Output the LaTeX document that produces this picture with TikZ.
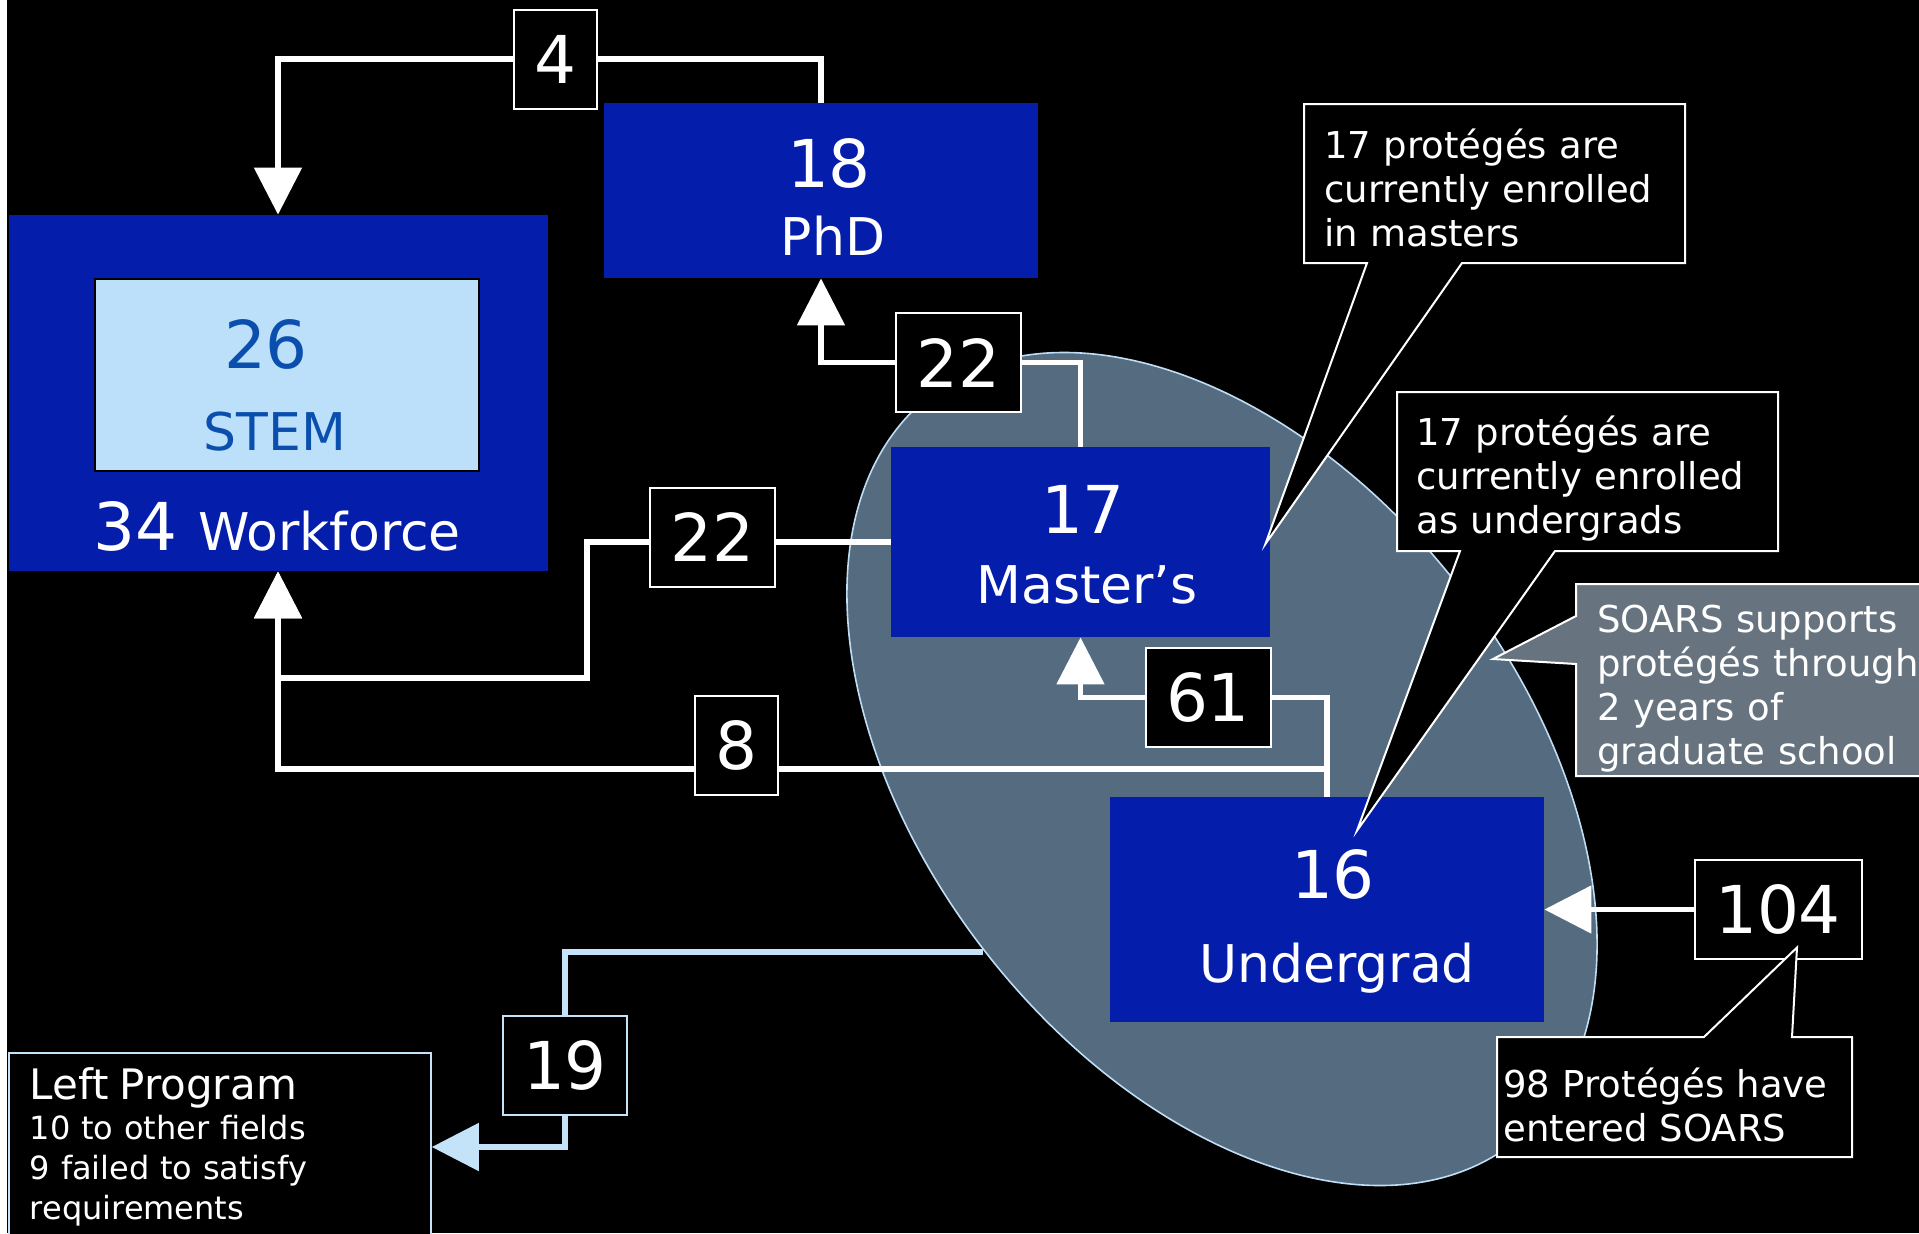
\documentclass[tikz,border=0pt]{standalone}
\usepackage{fontspec}
\setmainfont{DejaVu Sans}
\usetikzlibrary{arrows.meta,positioning,calc,backgrounds}
\definecolor{BoxBlue}{HTML}{051DAB}
\definecolor{StemFill}{HTML}{BCDFFA}
\definecolor{StemText}{HTML}{0B4FAE}
\definecolor{OvalFill}{HTML}{556B80}
\definecolor{OvalLine}{HTML}{BFDDF4}
\definecolor{NoteGrey}{HTML}{677480}
\definecolor{LeftBlue}{HTML}{C4E2F8}
\newcommand\NumFont{\fontsize{33}{36}\selectfont}
\newcommand\LabFont{\fontsize{26}{30}\selectfont}
\newcommand\NoteFont{\fontsize{18.5}{22}\selectfont}
\tikzset{
  FB/.style={rectangle,fill=BoxBlue,inner sep=0pt},
  NUM/.style={text=white,font=\NumFont,inner sep=0pt,anchor=base},
  LAB/.style={text=white,font=\LabFont,inner sep=0pt,anchor=base},
  CB/.style={rectangle,draw=white,fill=black,line width=1pt,text=white,
             font=\NumFont,inner xsep=10.25pt,inner ysep=0pt,minimum height=49.5pt},
  NB/.style={draw=white,fill=black,line width=1pt,line join=miter},
  NT/.style={text=white,font=\NoteFont,inner sep=0pt,anchor=base west,
             text width=180pt,align=left},
  arr/.style={draw=white,line width=2.75pt,-{Triangle[length=23.5pt,width=23.5pt]}},
  arrL/.style={arr,draw=LeftBlue}
}

\begin{document}
\begin{tikzpicture}[x=0.5pt,y=-0.5pt]
  \useasboundingbox (0,0) rectangle (1919,1233);

  % destination boxes
  \node[FB,minimum width=269.5pt,minimum height=178pt] (workforce) at (278,393) {};
  \node[rectangle,fill=StemFill,draw=black,line width=0.8pt,
        minimum width=192pt,minimum height=96pt] (stem) at (287,375) {};
  \node[NUM,text=StemText] (stemnum) at (266,368) {26};
  \node[LAB,text=StemText] (stemlab) at (275,450) {STEM};
  \node[LAB] (worklab) at (277,550) {{\NumFont 34\ }Workforce};

  \node[FB,minimum width=217pt,minimum height=87.5pt] (phd) at (821,190.5) {};
  \node[NUM] (phdnum) at (829,187) {18};
  \node[LAB] (phdlab) at (833,255) {PhD};

  \node[FB,minimum width=189.5pt,minimum height=95pt] (masters) at (1080.5,542) {};
  \node[NUM] (mastnum) at (1083,533) {17};
  \node[LAB] (mastlab) at (1087,603) {Master’s};

  \node[FB,minimum width=217pt,minimum height=112.5pt] (undergrad) at (1327,909.5) {};
  \node[NUM] (ugnum) at (1333,898) {16};
  \node[LAB] (uglab) at (1337,982) {Undergrad};

  \node[draw=LeftBlue,fill=black,line width=0.8pt,text=white,minimum width=211pt,
        minimum height=94pt,text width=190pt,align=left,
        font=\fontsize{16}{20}\selectfont] (leftprog) at (220,1147)
    {{\fontsize{21}{24}\selectfont Left Program}\\10 to other fields\\9 failed to satisfy\\requirements};

  % counts on the flows
  \node[CB] (n4) at (555.5,59) {4};
  \node[CB] (n22a) at (958.5,362.5) {22};
  \node[CB] (n22b) at (712.5,537) {22};
  \node[CB] (n8) at (736,745) {8};
  \node[CB] (n61) at (1208,697.5) {61};
  \node[CB] (n104) at (1778,909.5) {104};
  \node[CB,draw=LeftBlue] (n19) at (565,1065) {19};

  \coordinate (bendA) at (587,678);
  \coordinate (bendB) at (278,769);
  \coordinate (leavept) at (983,952);
  \coordinate (supportpt) at (1493,659);

  % notes
  \draw[NB] (1304,104) -- (1685,104) -- (1685,263) -- (1462,263)
    -- ($(masters.east)+(-5,2)$) -- (1367,263) -- (1304,263) -- cycle;
  \node[NT] (mastnote) at (1324,158) {17 protégés are\\currently enrolled\\in masters};

  \draw[NB] (1397,392) -- (1778,392) -- (1778,551) -- (1555,551)
    -- ($(undergrad.north)+(30,34)$) -- (1460,551) -- (1397,551) -- cycle;
  \node[NT] (ugnote) at (1416,445) {17 protégés are\\currently enrolled\\as undergrads};

  \draw[NB,fill=NoteGrey] (1576,584) -- (1940,584) -- (1940,776) -- (1576,776)
    -- (1576,664) -- (supportpt) -- (1576,616) -- cycle;
  \node[NT] (soarsnote) at (1597,632) {SOARS supports\\protégés through\\2 years of\\graduate school};

  \draw[NB] (1497,1037) -- (1704,1037) -- ($(n104.south)+(19,-12.5)$) -- (1792,1037)
    -- (1852,1037) -- (1852,1157) -- (1497,1157) -- cycle;
  \node[NT] (entrynote) at (1503,1097) {98 Protégés have\\entered SOARS};

  \begin{scope}[on background layer]
    \fill[white] (0,0) rectangle (1919,1233);
    \fill[black] (7,0) rectangle (1919,1233);
    \draw[fill=OvalFill,draw=OvalLine,line width=0.8pt,rotate around={-52:(1222,769)}]
      (1222,769) ellipse [x radius=474,y radius=299];
    \draw[arr] (phd.north) |- (n4) -| (workforce.north);
    \draw[arr] (masters.north) |- (n22a) -| (phd.south);
    \draw[arr] (masters.west) -| (bendA) -| (workforce.south);
    \draw[arr] (undergrad.north) |- (bendB) -- (workforce.south);
    \draw[arr] (undergrad.north) |- (n61) -| (masters.south);
    \draw[arr] (n104) -- (undergrad);
    \draw[arrL] (leavept) -| (n19) |- (leftprog);
  \end{scope}
\end{tikzpicture}
\end{document}
